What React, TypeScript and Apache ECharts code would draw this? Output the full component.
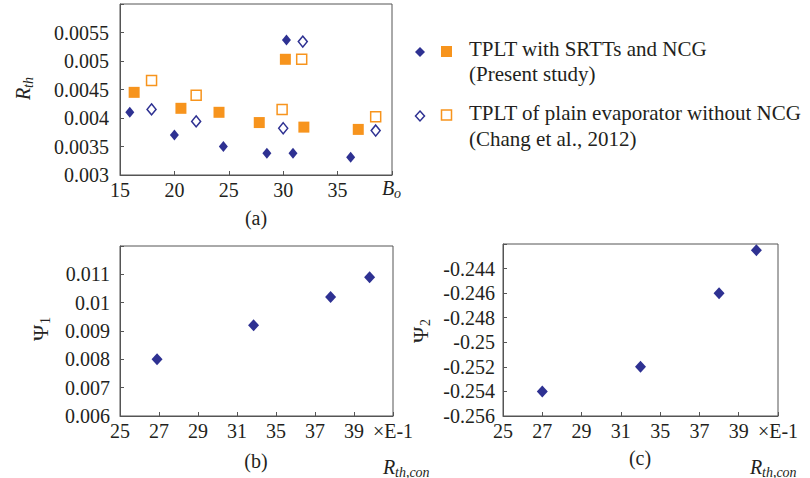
import React, { useEffect, useRef } from 'react';
import * as echarts from 'echarts';

// Panel (a): B_o vs R_th
const presentDiamonds: number[][] = [
  [15.9, 0.0041], [20.0, 0.0037], [24.5, 0.0035], [28.5, 0.00338],
  [30.3, 0.00537], [30.9, 0.00338], [36.2, 0.00331],
];
const presentSquares: number[][] = [
  [16.3, 0.00445], [20.6, 0.00417], [24.1, 0.0041], [27.8, 0.00392],
  [30.2, 0.00503], [31.9, 0.00384], [36.9, 0.0038],
];
const changDiamonds: number[][] = [
  [17.9, 0.00415], [22.0, 0.00394], [30.0, 0.00382], [31.8, 0.00534], [38.5, 0.00378],
];
const changSquares: number[][] = [
  [17.9, 0.00466], [22.0, 0.0044], [29.9, 0.00415], [31.7, 0.00503], [38.5, 0.00402],
];

// Panels (b), (c): R_th,con (x E-1) vs Psi
const xTickValues = [25, 27, 29, 31, 35, 37, 39, 41];
const xTickLabels = ['25', '27', '29', '31', '35', '37', '39', '×E-1'];
const psi1R = [26.9, 32.7, 37.8, 39.8];
const psi1 = [0.008, 0.0092, 0.0102, 0.0109];
const psi2R = [27.0, 33.0, 38.0, 39.9];
const psi2 = [-0.254, -0.252, -0.246, -0.2425];

const NAVY = '#2E3192';
const ORANGE = '#F7941D';
const TEXT = '#231F20';
const AXIS = '#555555';
const FONT = 'Liberation Serif, serif';

// piecewise mapping of the unevenly labelled axis
function toPos(v: number): number {
  for (let i = 0; i < xTickValues.length - 1; i++) {
    const a = xTickValues[i], b = xTickValues[i + 1];
    if (v <= b || i === xTickValues.length - 2) return i + (v - a) / (b - a);
  }
  return 0;
}

function fmtY(max: number) {
  return (v: number) => (Math.abs(v - max) < 1e-9 ? '' : String(parseFloat(v.toPrecision(6))));
}

const labelStyle = { color: TEXT, fontFamily: FONT, fontSize: 20 };

function subText(x: number, y: number, main: string, sub: string, opts: { rotate?: boolean; italic?: boolean; mainW: number; mainSize?: number }) {
  const fs = opts.italic ? 'italic' : 'normal';
  const children = [
    {
      type: 'text', x: 0, y: 0,
      style: { text: main, fill: TEXT, fontFamily: FONT, fontSize: opts.mainSize ?? 20, fontStyle: fs, verticalAlign: 'middle', align: 'left' },
    },
    {
      type: 'text', x: opts.mainW, y: 5,
      style: { text: sub, fill: TEXT, fontFamily: FONT, fontSize: 14, fontStyle: fs, verticalAlign: 'middle', align: 'left' },
    },
  ];
  return { type: 'group', x, y, rotation: opts.rotate ? Math.PI / 2 : 0, children };
}

function txt(x: number, y: number, text: string, align = 'left', size = 20) {
  return { type: 'text', x, y, style: { text, fill: TEXT, fontFamily: FONT, fontSize: size, align, verticalAlign: 'middle' } };
}

export default function App() {
  const ref = useRef<HTMLDivElement>(null);
  useEffect(() => {
    if (!ref.current) return;
    const chart = echarts.init(ref.current, null, { renderer: 'svg' });
    const axisLine = { show: true, lineStyle: { color: AXIS, width: 1 } };
    const axisTick = { show: true, inside: true, length: 4, lineStyle: { color: AXIS } };
    const grid = (left: number, top: number, width: number, height: number) => ({
      left, top, width, height, show: true, borderColor: AXIS, borderWidth: 1, backgroundColor: 'transparent',
    });
    const yAxisBase = (idx: number, min: number, max: number, interval: number, margin: number) => ({
      type: 'value', gridIndex: idx, min, max, interval,
      axisLine, axisTick, splitLine: { show: false },
      axisLabel: { ...labelStyle, margin, formatter: fmtY(max) },
    });
    const diamond = (data: number[][], filled: boolean, xi: number, yi: number, size: number[]) => ({
      type: 'scatter', xAxisIndex: xi, yAxisIndex: yi, data, symbol: 'diamond', symbolSize: size,
      itemStyle: filled ? { color: NAVY, opacity: 1 } : { color: '#fff', borderColor: NAVY, borderWidth: 1.5, opacity: 1 },
    });
    const square = (data: number[][], filled: boolean) => ({
      type: 'scatter', xAxisIndex: 0, yAxisIndex: 0, data, symbol: 'rect', symbolSize: filled ? 11 : 10,
      itemStyle: filled ? { color: ORANGE, opacity: 1 } : { color: '#fff', borderColor: ORANGE, borderWidth: 1.5, opacity: 1 },
    });
    const option: any = {
      animation: false,
      textStyle: { fontFamily: FONT },
      grid: [grid(120, 4, 272, 171), grid(120, 246, 273, 170), grid(503, 244, 275, 172)],
      xAxis: [
        {
          type: 'value', gridIndex: 0, min: 15, max: 40, interval: 5,
          axisLine, axisTick, splitLine: { show: false },
          axisLabel: { ...labelStyle, margin: 5, formatter: (v: number) => (v === 40 ? '' : String(v)) },
        },
        ...[1, 2].map((g) => ({
          type: 'value', gridIndex: g, min: 0, max: 7, interval: 1,
          axisLine, axisTick, splitLine: { show: false },
          axisLabel: { ...labelStyle, margin: 5, formatter: (v: number) => xTickLabels[Math.round(v)] ?? '' },
        })),
      ],
      yAxis: [
        yAxisBase(0, 0.003, 0.006, 0.0005, 11),
        yAxisBase(1, 0.006, 0.012, 0.001, 10),
        yAxisBase(2, -0.256, -0.242, 0.002, 8),
      ],
      series: [
        square(presentSquares, true),
        square(changSquares, false),
        diamond(presentDiamonds, true, 0, 0, [9, 11]),
        diamond(changDiamonds, false, 0, 0, [9, 11]),
        diamond(psi1R.map((r, i) => [toPos(r), psi1[i]]), true, 1, 1, [11, 12]),
        diamond(psi2R.map((r, i) => [toPos(r), psi2[i]]), true, 2, 2, [11, 12]),
      ],
      graphic: [
        // legend
        { type: 'polygon', shape: { points: [[420, 47], [425, 52], [420, 57], [415, 52]] }, style: { fill: NAVY } },
        { type: 'rect', shape: { x: 441, y: 46, width: 11, height: 11 }, style: { fill: ORANGE } },
        { type: 'polygon', shape: { points: [[420, 111], [424.5, 116], [420, 121], [415.5, 116]] }, style: { fill: '#fff', stroke: NAVY, lineWidth: 1.5 } },
        { type: 'rect', shape: { x: 441.5, y: 110, width: 10, height: 10 }, style: { fill: '#fff', stroke: ORANGE, lineWidth: 1.5 } },
        txt(469, 49, 'TPLT with SRTTs and NCG', 'left', 21),
        txt(469, 74, '(Present study)', 'left', 21),
        txt(469, 113, 'TPLT of plain evaporator without NCG', 'left', 21),
        txt(469, 139, '(Chang et al., 2012)', 'left', 21),
        // panel labels
        txt(256, 218, '(a)', 'center'),
        txt(256, 461, '(b)', 'center'),
        txt(640, 458, '(c)', 'center'),
        // axis names
        subText(382, 188, 'B', 'o', { italic: true, mainW: 12 }),
        subText(383, 467, 'R', 'th,con', { italic: true, mainW: 12 }),
        subText(750, 467, 'R', 'th,con', { italic: true, mainW: 12 }),
        subText(23, 100, 'R', 'th', { italic: true, mainW: 12, rotate: true }),
        subText(40, 341, 'Ψ', '1', { mainW: 17, rotate: true, mainSize: 22 }),
        subText(420, 343, 'Ψ', '2', { mainW: 17, rotate: true, mainSize: 22 }),
      ],
    };
    chart.setOption(option);
    return () => chart.dispose();
  }, []);
  return <div ref={ref} style={{ position: 'fixed', left: 0, top: 0, width: 810, height: 478, background: '#fff' }} />;
}
